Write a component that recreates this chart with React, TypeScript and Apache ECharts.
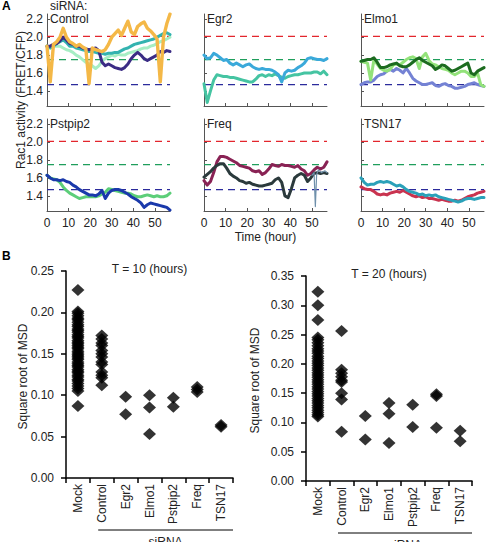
import React, { useEffect, useRef } from "react";
import * as echarts from "echarts";

const FONT = "'Liberation Sans', Arial, Helvetica, sans-serif";
const INK = "#222";

// ---------- Panel A: Rac1 activity time courses ----------
const HOURS = [0, 1.5, 3, 4.5, 6, 7.5, 9, 10.5, 12, 13.5, 15, 16.5, 18, 19.5, 21, 22.5, 24, 25.5, 27, 28.5, 30, 31.5, 33, 34.5, 36, 37.5, 39, 40.5, 42, 43.5, 45, 46.5, 48, 49.5, 51, 52.5, 54, 55.5, 57];
const HOUR_TICKS = [0, 10, 20, 30, 40, 50];
const RAC1_TICKS = [1.4, 1.6, 1.8, 2.0, 2.2];
const REF_LEVELS = [2.01, 1.75, 1.47];
const REF_COLORS = ["#e3262d", "#1f9e5c", "#2b2b9c"];

const CONTROL_MINT = [1.9, 1.88, 1.9, 1.9, 1.9, 1.88, 1.86, 1.85, 1.83, 1.8, 1.78, 1.75, 1.72, 1.7, 1.68, 1.65, 1.68, 1.73, 1.76, 1.78, 1.8, 1.79, 1.81, 1.8, 1.8, 1.82, 1.83, 1.84, 1.85, 1.87, 1.88, 1.88, 1.9, 1.91, 1.93, 1.95, 1.96, 1.98, 2.0];
const CONTROL_TEAL = [1.9, 1.88, 1.9, 1.93, 1.95, 1.97, 1.94, 1.9, 1.9, 1.88, 1.87, 1.86, 1.85, 1.84, 1.84, 1.83, 1.82, 1.82, 1.81, 1.82, 1.82, 1.83, 1.83, 1.85, 1.87, 1.88, 1.9, 1.92, 1.93, 1.94, 1.95, 1.96, 1.97, 1.98, 2.0, 2.02, 2.04, 2.05, 2.03];
const CONTROL_NAVY = [1.9, 1.9, 1.92, 1.93, 1.96, 2.0, 1.97, 1.93, 1.92, 1.9, 1.9, 1.88, 1.87, 1.86, 1.87, 1.88, 1.85, 1.72, 1.68, 1.7, 1.68, 1.66, 1.65, 1.64, 1.66, 1.7, 1.76, 1.8, 1.83, 1.8, 1.76, 1.74, 1.76, 1.78, 1.8, 1.84, 1.83, 1.85, 1.84];
const CONTROL_ORANGE = [1.9, 1.5, 1.92, 1.95, 2.0, 2.1, 2.0, 1.95, 1.93, 1.9, 1.92, 1.89, 1.87, 1.48, 1.88, 1.86, 1.85, 1.84, 1.86, 1.92, 2.0, 2.04, 2.08, 2.02, 2.1, 2.18, 2.06, 2.03, 2.12, 2.15, 2.17, 2.1, 2.07, 2.03, 1.98, 1.5, 2.0, 2.15, 2.26];

const EGR2_TEAL = [1.48, 1.27, 1.4, 1.52, 1.58, 1.57, 1.56, 1.56, 1.55, 1.55, 1.54, 1.53, 1.52, 1.51, 1.5, 1.5, 1.53, 1.57, 1.58, 1.56, 1.58, 1.57, 1.59, 1.57, 1.55, 1.54, 1.56, 1.57, 1.58, 1.58, 1.59, 1.6, 1.6, 1.6, 1.61, 1.61, 1.59, 1.62, 1.58];
const EGR2_BLUE = [1.8, 1.76, 1.77, 1.82, 1.8, 1.77, 1.74, 1.75, 1.71, 1.69, 1.71, 1.69, 1.67, 1.69, 1.7, 1.67, 1.65, 1.64, 1.65, 1.64, 1.64, 1.63, 1.61, 1.58, 1.5, 1.6, 1.63, 1.62, 1.63, 1.66, 1.68, 1.71, 1.76, 1.77, 1.76, 1.75, 1.75, 1.74, 1.76];

const ELMO1_PERI = [1.47, 1.49, 1.5, 1.5, 1.52, 1.56, 1.58, 1.59, 1.62, 1.64, 1.62, 1.65, 1.63, 1.6, 1.65, 1.6, 1.54, 1.51, 1.49, 1.47, 1.47, 1.48, 1.49, 1.46, 1.45, 1.47, 1.48, 1.46, 1.45, 1.43, 1.43, 1.44, 1.45, 1.47, 1.48, 1.49, 1.47, 1.46, 1.45];
const ELMO1_LIGHT = [1.73, 1.72, 1.71, 1.52, 1.75, 1.7, 1.65, 1.63, 1.62, 1.64, 1.69, 1.7, 1.69, 1.72, 1.75, 1.77, 1.78, 1.76, 1.65, 1.78, 1.82, 1.74, 1.7, 1.69, 1.67, 1.65, 1.64, 1.63, 1.6, 1.58, 1.6, 1.62, 1.62, 1.6, 1.56, 1.56, 1.6, 1.47, 1.45];
const ELMO1_DARK = [1.73, 1.74, 1.75, 1.75, 1.77, 1.72, 1.66, 1.66, 1.67, 1.69, 1.7, 1.71, 1.68, 1.67, 1.67, 1.69, 1.72, 1.75, 1.77, 1.74, 1.72, 1.7, 1.68, 1.64, 1.66, 1.69, 1.68, 1.65, 1.62, 1.63, 1.65, 1.67, 1.69, 1.71, 1.6, 1.58, 1.62, 1.64, 1.66];

const PSTPIP2_GREEN = [1.63, 1.6, 1.59, 1.58, 1.55, 1.5, 1.46, 1.43, 1.41, 1.39, 1.37, 1.38, 1.39, 1.39, 1.39, 1.39, 1.4, 1.42, 1.44, 1.48, 1.47, 1.46, 1.45, 1.44, 1.43, 1.43, 1.42, 1.4, 1.39, 1.39, 1.4, 1.41, 1.4, 1.39, 1.4, 1.39, 1.39, 1.4, 1.43];
const PSTPIP2_BLUE = [1.63, 1.6, 1.58, 1.58, 1.57, 1.58, 1.56, 1.55, 1.52, 1.5, 1.47, 1.45, 1.43, 1.41, 1.41, 1.4, 1.42, 1.46, 1.37, 1.43, 1.46, 1.47, 1.47, 1.46, 1.44, 1.42, 1.39, 1.37, 1.35, 1.32, 1.27, 1.3, 1.32, 1.31, 1.3, 1.29, 1.28, 1.27, 1.24];

const FREQ_MAROON = [1.57, 1.52, 1.56, 1.66, 1.78, 1.84, 1.84, 1.83, 1.81, 1.79, 1.77, 1.74, 1.73, 1.72, 1.71, 1.68, 1.67, 1.68, 1.64, 1.66, 1.7, 1.75, 1.74, 1.73, 1.75, 1.74, 1.74, 1.73, 1.72, 1.74, 1.7, 1.68, 1.63, 1.65, 1.69, 1.72, 1.7, 1.72, 1.78];
const FREQ_SLATE = [1.61, 1.64, 1.67, 1.71, 1.74, 1.76, 1.76, 1.71, 1.65, 1.62, 1.6, 1.57, 1.56, 1.54, 1.55, 1.53, 1.52, 1.51, 1.51, 1.52, 1.53, 1.54, 1.58, 1.6, 1.55, 1.4, 1.38, 1.48, 1.6, 1.63, 1.65, 1.63, 1.56, 1.6, 1.65, 1.66, 1.65, 1.66, 1.65];
const FREQ_THIN_HOURS = [50, 51, 51.6, 52.2, 53, 54.5, 56, 57];
const FREQ_THIN = [1.63, 1.66, 1.28, 1.64, 1.69, 1.66, 1.68, 1.66];

const TSN17_CRIMSON = [1.5, 1.48, 1.47, 1.47, 1.45, 1.42, 1.41, 1.42, 1.41, 1.43, 1.44, 1.45, 1.44, 1.46, 1.44, 1.42, 1.4, 1.39, 1.4, 1.38, 1.39, 1.37, 1.37, 1.36, 1.35, 1.36, 1.35, 1.34, 1.34, 1.35, 1.34, 1.35, 1.37, 1.39, 1.4, 1.41, 1.43, 1.44, 1.45];
const TSN17_TEAL = [1.6, 1.55, 1.52, 1.53, 1.53, 1.55, 1.56, 1.55, 1.56, 1.55, 1.53, 1.51, 1.52, 1.5, 1.47, 1.45, 1.44, 1.43, 1.41, 1.42, 1.4, 1.41, 1.4, 1.41, 1.39, 1.38, 1.37, 1.36, 1.35, 1.34, 1.33, 1.34, 1.36, 1.37, 1.37, 1.36, 1.37, 1.38, 1.38];

// ---------- Panel B: square root of MSD ----------
const CATEGORIES = ["Mock", "Control", "Egr2", "Elmo1", "Pstpip2", "Freq", "TSN17"];

const MOCK_T10 = [0.227, 0.201, 0.199, 0.196, 0.193, 0.191, 0.188, 0.185, 0.183, 0.18, 0.178, 0.176, 0.173, 0.171, 0.169, 0.166, 0.164, 0.162, 0.16, 0.158, 0.156, 0.153, 0.151, 0.149, 0.147, 0.145, 0.143, 0.14, 0.138, 0.136, 0.134, 0.131, 0.129, 0.127, 0.124, 0.122, 0.119, 0.117, 0.114, 0.111, 0.108, 0.105, 0.087];
const CONTROL_T10 = [0.172, 0.168, 0.163, 0.16, 0.154, 0.15, 0.146, 0.14, 0.137, 0.128, 0.124, 0.121, 0.112];
const EGR2_T10 = [0.098, 0.077];
const ELMO1_T10 = [0.1, 0.085, 0.053];
const PSTPIP2_T10 = [0.097, 0.086];
const FREQ_T10 = [0.11, 0.107, 0.104];
const TSN17_T10 = [0.064, 0.062];

const MOCK_T20 = [0.323, 0.3, 0.275, 0.245, 0.241, 0.236, 0.231, 0.226, 0.222, 0.218, 0.213, 0.209, 0.205, 0.201, 0.197, 0.193, 0.189, 0.185, 0.181, 0.177, 0.173, 0.169, 0.165, 0.161, 0.157, 0.153, 0.149, 0.145, 0.141, 0.137, 0.133, 0.129, 0.125, 0.121, 0.117, 0.113, 0.11];
const CONTROL_T20 = [0.256, 0.19, 0.184, 0.178, 0.172, 0.169, 0.15, 0.139, 0.084];
const EGR2_T20 = [0.111, 0.071];
const ELMO1_T20 = [0.133, 0.115, 0.065];
const PSTPIP2_T20 = [0.13, 0.092];
const FREQ_T20 = [0.148, 0.145, 0.091];
const TSN17_T20 = [0.086, 0.068];

type Trace = { values: number[]; hours?: number[]; color: string; width?: number };
type Panel = { title: string; row: number; col: number; traces: Trace[] };

const PANELS: Panel[] = [
  { title: "Control", row: 0, col: 0, traces: [
    { values: CONTROL_MINT, color: "#a6eec4" },
    { values: CONTROL_TEAL, color: "#33b3b0" },
    { values: CONTROL_NAVY, color: "#3b2c85" },
    { values: CONTROL_ORANGE, color: "#f4b847", width: 3.4 },
  ] },
  { title: "Egr2", row: 0, col: 1, traces: [
    { values: EGR2_TEAL, color: "#45c4a2" },
    { values: EGR2_BLUE, color: "#3aa9da" },
  ] },
  { title: "Elmo1", row: 0, col: 2, traces: [
    { values: ELMO1_PERI, color: "#7482d4" },
    { values: ELMO1_LIGHT, color: "#93e27a" },
    { values: ELMO1_DARK, color: "#1c6b1f" },
  ] },
  { title: "Pstpip2", row: 1, col: 0, traces: [
    { values: PSTPIP2_GREEN, color: "#5cce79" },
    { values: PSTPIP2_BLUE, color: "#1a39ab" },
  ] },
  { title: "Freq", row: 1, col: 1, traces: [
    { values: FREQ_MAROON, color: "#892254" },
    { values: FREQ_SLATE, color: "#2b3a3c" },
    { values: FREQ_THIN, hours: FREQ_THIN_HOURS, color: "#6f90ab", width: 1.2 },
  ] },
  { title: "TSN17", row: 1, col: 2, traces: [
    { values: TSN17_CRIMSON, color: "#c9334f" },
    { values: TSN17_TEAL, color: "#2aa1b9" },
  ] },
];

const COL_LEFT = [47, 204, 361];
const ROW_TOP = [14, 119];
const PANEL_W = 123;
const PANEL_H = 92;

type MsdChart = { title: string; left: number; top: number; width: number; height: number; max: number; nameX: number; groups: number[][] };
const MSD_CHARTS: MsdChart[] = [
  { title: "T = 10 (hours)", left: 66, top: 271, width: 167, height: 207, max: 0.25, nameX: 23,
    groups: [MOCK_T10, CONTROL_T10, EGR2_T10, ELMO1_T10, PSTPIP2_T10, FREQ_T10, TSN17_T10] },
  { title: "T = 20 (hours)", left: 306, top: 276, width: 166, height: 205, max: 0.35, nameX: 255,
    groups: [MOCK_T20, CONTROL_T20, EGR2_T20, ELMO1_T20, PSTPIP2_T20, FREQ_T20, TSN17_T20] },
];

function text(x: number, y: number, s: string, extra: any = {}, style: any = {}) {
  return {
    type: "text", x, y, ...extra,
    style: { text: s, fill: INK, font: `12px ${FONT}`, align: "left", verticalAlign: "middle", ...style },
  };
}

function buildOption() {
  const grid: any[] = [];
  const xAxis: any[] = [];
  const yAxis: any[] = [];
  const series: any[] = [];
  const graphic: any[] = [];

  PANELS.forEach((p, i) => {
    grid.push({ left: COL_LEFT[p.col], top: ROW_TOP[p.row], width: PANEL_W, height: PANEL_H });
    xAxis.push({
      gridIndex: i, type: "value", min: 0, max: 57,
      axisLine: { show: true, lineStyle: { color: "#555", width: 1 } },
      axisTick: { show: true, inside: true, length: 3, customValues: HOUR_TICKS, lineStyle: { color: "#555" } },
      axisLabel: { show: p.row === 1, customValues: HOUR_TICKS, color: INK, fontSize: 12, fontFamily: FONT, margin: 6 },
      splitLine: { show: false },
    });
    yAxis.push({
      gridIndex: i, type: "value", min: 1.23, max: 2.26,
      axisLine: { show: true, lineStyle: { color: "#555", width: 1 } },
      axisTick: { show: true, inside: true, length: 3, customValues: RAC1_TICKS, lineStyle: { color: "#555" } },
      axisLabel: {
        show: p.col === 0, customValues: RAC1_TICKS, color: INK, fontSize: 12, fontFamily: FONT, margin: 4,
        formatter: (v: number) => v.toFixed(1),
      },
      splitLine: { show: false },
    });
    REF_LEVELS.forEach((lv, k) => {
      series.push({
        type: "line", xAxisIndex: i, yAxisIndex: i, silent: true, symbol: "none", z: 1,
        data: [[0, lv], [57, lv]],
        lineStyle: { color: REF_COLORS[k], width: 1.3, type: [7, 5] },
      });
    });
    p.traces.forEach((tr) => {
      const hrs = tr.hours || HOURS;
      series.push({
        type: "line", xAxisIndex: i, yAxisIndex: i, silent: true, symbol: "none", z: 2,
        data: tr.values.map((v, j) => [hrs[j], v]),
        lineStyle: { color: tr.color, width: tr.width ?? 3, cap: "round", join: "round" },
      });
    });
    graphic.push(text(COL_LEFT[p.col] + 3, ROW_TOP[p.row] + 5, p.title));
  });

  MSD_CHARTS.forEach((c, k) => {
    const gi = PANELS.length + k;
    grid.push({ left: c.left, top: c.top, width: c.width, height: c.height });
    xAxis.push({
      gridIndex: gi, type: "category", data: CATEGORIES, boundaryGap: true,
      axisLine: { show: true, lineStyle: { color: "#000", width: 1.5 } },
      axisTick: { show: true, alignWithLabel: false, length: 5, lineStyle: { color: "#000", width: 1.5 } },
      axisLabel: { rotate: 90, interval: 0, color: INK, fontSize: 12, fontFamily: FONT, margin: 6 },
      splitLine: { show: false },
    });
    yAxis.push({
      gridIndex: gi, type: "value", min: 0, max: c.max, interval: 0.05,
      axisLine: { show: true, lineStyle: { color: "#000", width: 1.5 } },
      axisTick: { show: true, length: 5, lineStyle: { color: "#000", width: 1.5 } },
      axisLabel: { color: INK, fontSize: 12, fontFamily: FONT, margin: 12, formatter: (v: number) => v.toFixed(2) },
      splitLine: { show: false },
    });
    const pts: number[][] = [];
    c.groups.forEach((vals, ci) => vals.forEach((v) => pts.push([ci, v])));
    series.push({
      type: "scatter", xAxisIndex: gi, yAxisIndex: gi, silent: true,
      symbol: "diamond", symbolSize: [13, 12], itemStyle: { color: "#000" },
      data: pts,
    });
    const cx = c.left + c.width / 2;
    graphic.push(text(cx, c.top - 2, c.title, {}, { align: "center" }));
    graphic.push(text(c.nameX, c.top + c.height / 2 + 2, "Square root of MSD", { rotation: Math.PI / 2 }, { align: "center" }));
    const slot = c.width / CATEGORIES.length;
    const lx1 = c.left + slot * 1.35;
    const lx2 = c.left + c.width;
    const ly = c.top + c.height + 52;
    graphic.push({ type: "line", shape: { x1: lx1, y1: ly, x2: lx2, y2: ly }, style: { stroke: "#000", lineWidth: 1 } });
    graphic.push(text((lx1 + lx2) / 2, ly + 6, "siRNA", {}, { align: "center", verticalAlign: "top" }));
  });

  graphic.push(text(2, 6, "A", {}, { font: `bold 12px ${FONT}`, fill: "#000" }));
  graphic.push(text(2, 256, "B", {}, { font: `bold 12px ${FONT}`, fill: "#000" }));
  graphic.push(text(50, 6, "siRNA:"));
  graphic.push(text(21, 100, "Rac1 activity (FRET/CFP)", { rotation: Math.PI / 2 }, { align: "center" }));
  graphic.push(text(COL_LEFT[1] + PANEL_W / 2, 237, "Time (hour)", {}, { align: "center" }));

  return {
    animation: false,
    backgroundColor: "#fff",
    grid, xAxis, yAxis, series, graphic,
  };
}

export default function App() {
  const ref = useRef<HTMLDivElement>(null);
  useEffect(() => {
    const chart = echarts.init(ref.current!, null, { renderer: "svg" });
    chart.setOption(buildOption());
    return () => chart.dispose();
  }, []);
  return (
    <div
      ref={ref}
      style={{ position: "fixed", left: 0, top: 0, width: 488, height: 542, background: "#fff" }}
    />
  );
}
